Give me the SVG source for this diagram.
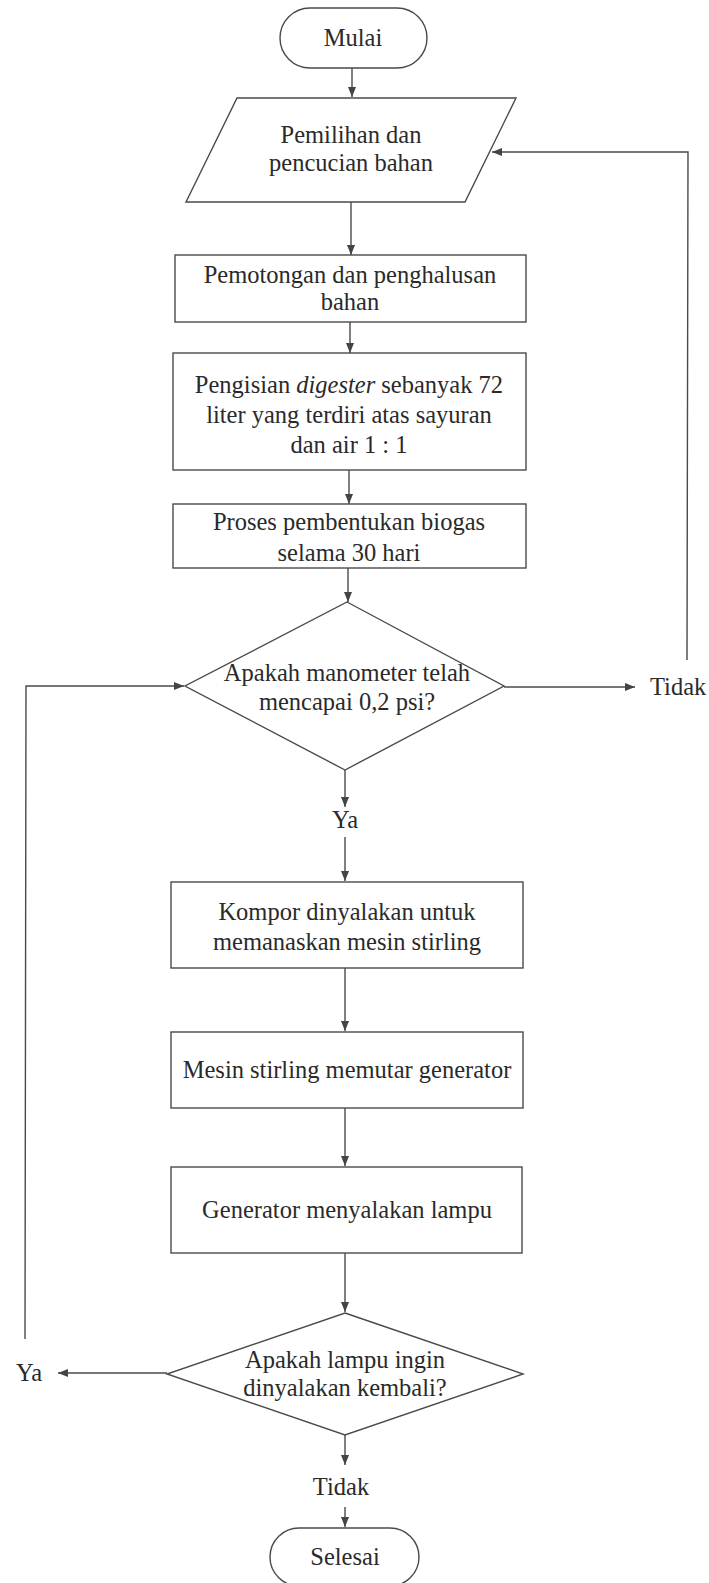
<svg xmlns="http://www.w3.org/2000/svg" width="709" height="1583" viewBox="0 0 709 1583">
<style>
.shape{fill:#ffffff;stroke:#4a4a4a;stroke-width:1.4}
.conn{fill:none;stroke:#4a4a4a;stroke-width:1.4}
.t{font-family:"Liberation Serif","Times New Roman",serif;font-size:24.5px;fill:#2a2a2a;text-anchor:middle}
.tl{font-family:"Liberation Serif","Times New Roman",serif;font-size:24.5px;fill:#2a2a2a;text-anchor:start}
</style>
<defs>
<marker id="arr" markerUnits="userSpaceOnUse" markerWidth="11" markerHeight="8" refX="10" refY="4" orient="auto">
<path d="M0,0 L10,4 L0,8 z" fill="#444"/>
</marker>
</defs>
<rect width="709" height="1583" fill="#ffffff"/>

<g id="connectors">
<line class="conn" x1="352" y1="68" x2="352" y2="97" marker-end="url(#arr)"/>
<line class="conn" x1="351" y1="202" x2="351" y2="255" marker-end="url(#arr)"/>
<line class="conn" x1="350" y1="322" x2="350" y2="353" marker-end="url(#arr)"/>
<line class="conn" x1="349" y1="470" x2="349" y2="504" marker-end="url(#arr)"/>
<line class="conn" x1="348" y1="568" x2="348" y2="602" marker-end="url(#arr)"/>
<line class="conn" x1="504" y1="687" x2="635" y2="687" marker-end="url(#arr)"/>
<polyline class="conn" points="687,660 688,152 492,152" marker-end="url(#arr)"/>
<polyline class="conn" points="25,1339 26,686 184,686" marker-end="url(#arr)"/>
<line class="conn" x1="345" y1="770" x2="345" y2="807" marker-end="url(#arr)"/>
<line class="conn" x1="345" y1="837" x2="345" y2="881" marker-end="url(#arr)"/>
<line class="conn" x1="345" y1="968" x2="345" y2="1031" marker-end="url(#arr)"/>
<line class="conn" x1="345" y1="1108" x2="345" y2="1166" marker-end="url(#arr)"/>
<line class="conn" x1="345" y1="1253" x2="345" y2="1312" marker-end="url(#arr)"/>
<line class="conn" x1="167" y1="1373" x2="58" y2="1373" marker-end="url(#arr)"/>
<line class="conn" x1="345" y1="1435" x2="345" y2="1465" marker-end="url(#arr)"/>
<line class="conn" x1="345" y1="1507" x2="345" y2="1527" marker-end="url(#arr)"/>
<text class="tl" x="650" y="695">Tidak</text>
<text class="t" x="345" y="828">Ya</text>
<text class="t" x="29" y="1381">Ya</text>
<text class="t" x="341" y="1495">Tidak</text>
</g>

<g id="mulai">
<rect class="shape" x="280" y="8" width="147" height="60" rx="30" ry="30"/>
<text class="t" x="353" y="46">Mulai</text>
</g>

<g id="pemilihan">
<polygon class="shape" points="237,98 516,98 465,202 186,202"/>
<text class="t" x="351" y="143">Pemilihan dan</text>
<text class="t" x="351" y="171">pencucian bahan</text>
</g>

<g id="pemotongan">
<rect class="shape" x="175" y="255" width="351" height="67"/>
<text class="t" x="350" y="283">Pemotongan dan penghalusan</text>
<text class="t" x="350" y="310">bahan</text>
</g>

<g id="pengisian">
<rect class="shape" x="173" y="353" width="353" height="117"/>
<text class="t" x="349" y="393">Pengisian <tspan font-style="italic">digester</tspan> sebanyak 72</text>
<text class="t" x="349" y="423">liter yang terdiri atas sayuran</text>
<text class="t" x="349" y="453">dan air 1 : 1</text>
</g>

<g id="proses">
<rect class="shape" x="173" y="504" width="353" height="64"/>
<text class="t" x="349" y="530">Proses pembentukan biogas</text>
<text class="t" x="349" y="561">selama 30 hari</text>
</g>

<g id="cek-manometer">
<polygon class="shape" points="347,602 504,686 345,770 185,686"/>
<text class="t" x="347" y="681">Apakah manometer telah</text>
<text class="t" x="347" y="710">mencapai 0,2 psi?</text>
</g>

<g id="kompor">
<rect class="shape" x="171" y="882" width="352" height="86"/>
<text class="t" x="347" y="920">Kompor dinyalakan untuk</text>
<text class="t" x="347" y="950">memanaskan mesin stirling</text>
</g>

<g id="mesin">
<rect class="shape" x="171" y="1032" width="352" height="76"/>
<text class="t" x="347" y="1078">Mesin stirling memutar generator</text>
</g>

<g id="generator">
<rect class="shape" x="171" y="1167" width="351" height="86"/>
<text class="t" x="347" y="1218">Generator menyalakan lampu</text>
</g>

<g id="cek-lampu">
<polygon class="shape" points="345,1313 523,1374 345,1435 167,1374"/>
<text class="t" x="345" y="1368">Apakah lampu ingin</text>
<text class="t" x="345" y="1396">dinyalakan kembali?</text>
</g>

<g id="selesai">
<rect class="shape" x="270" y="1528" width="149" height="58" rx="29" ry="29"/>
<text class="t" x="345" y="1565">Selesai</text>
</g>
</svg>
